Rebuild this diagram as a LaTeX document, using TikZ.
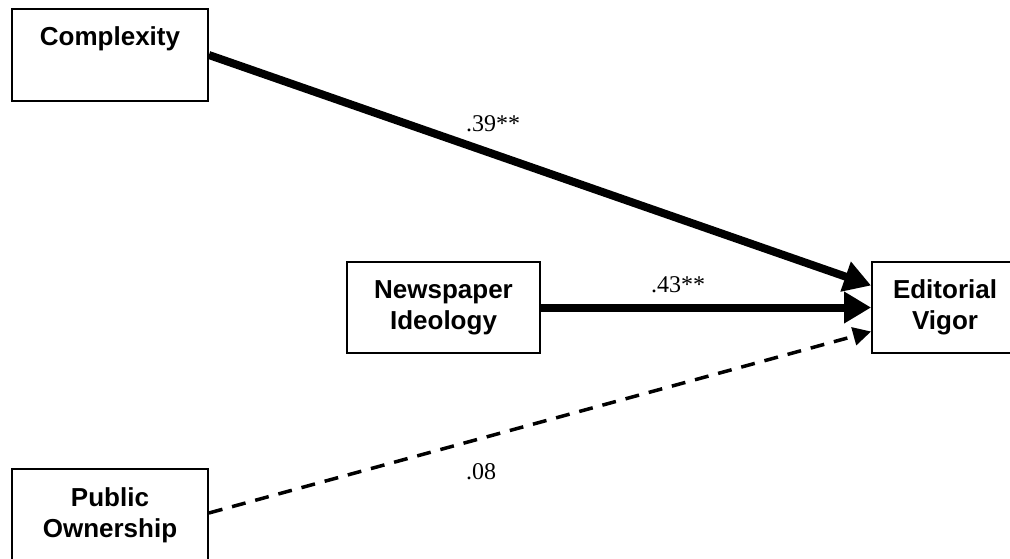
\documentclass[tikz,border=0pt]{standalone}
\usepackage{fontspec}
\setmainfont{Liberation Serif}
\newfontfamily\boxfont{Liberation Sans}
\usetikzlibrary{arrows.meta}

\begin{document}
\begin{tikzpicture}[x=1pt,y=-1pt,
    varbox/.style={draw,line width=1.8pt,inner sep=0pt,align=center,
      font=\boxfont\fontsize{26}{31}\selectfont\bfseries},
    path/.style={line width=8pt,-{Triangle[length=27pt,width=30pt]}},
    weakpath/.style={line width=3.5pt,dash pattern=on 14pt off 10pt,
      -{Triangle[length=18pt,width=18pt]}},
    coef/.style={font=\fontsize{24}{28}\selectfont}]
  \useasboundingbox (0,0) rectangle (1010,558);
  % variables
  \node[varbox,minimum width=196pt,text height=36pt,text depth=56pt] (cx) at (110,55) {Complexity};
  \node[varbox,minimum width=193pt,minimum height=91pt] (ni) at (443.5,307.5) {Newspaper\\Ideology};
  \node[varbox,minimum width=146pt,minimum height=91pt] (ev) at (945,307.5) {Editorial\\Vigor};
  \node[varbox,minimum width=196pt,minimum height=92pt] (po) at (110,515) {Public\\Ownership};
  % paths
  \draw[path] (cx.east) -- ([yshift=22pt]ev.west);
  \draw[path] (ni.east) -- (ev.west);
  \draw[weakpath] ([yshift=2pt]po.east) -- ([yshift=-24pt]ev.west);
  \node[coef] (c1) at (493,124) {.39**};
  \node[coef] (c2) at (678,285) {.43**};
  \node[coef] (c3) at (481,472) {.08};
\end{tikzpicture}
\end{document}
